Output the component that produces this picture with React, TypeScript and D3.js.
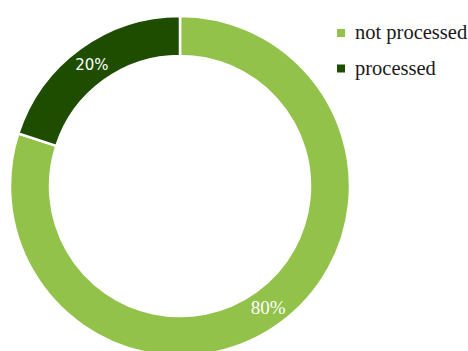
import React from "react";
import * as d3 from "d3";

const categories = ["not processed", "processed"];
const values = [80, 20];
const labels = ["80%", "20%"];
const colors = ["#92c24a", "#1e4d00"];

export default function App() {
  const width = 468, height = 351;
  const cx = 180, cy = 186, outerR = 170, innerR = 130;
  const pie = d3.pie<number>().sort(null).value((d) => d)
    .startAngle(0).endAngle(2 * Math.PI);
  const arcs = pie(values);
  const arc = d3.arc<d3.PieArcDatum<number>>().innerRadius(innerR).outerRadius(outerR);
  const labelArc = d3.arc<d3.PieArcDatum<number>>().innerRadius(150).outerRadius(150);
  const color = d3.scaleOrdinal<string, string>().domain(categories).range(colors);
  const legendY = d3.scalePoint<string>().domain(categories).range([39, 74.5]);
  return (
    <svg width={width} height={height} style={{ position: "absolute", left: 0, top: 0 }}>
      <g transform={`translate(${cx},${cy})`}>
        {arcs.map((a, i) => (
          <path key={i} d={arc(a) || ""} fill={color(categories[i])} stroke="#fff" strokeWidth={2.5} />
        ))}
        {arcs.map((a, i) => {
          const [x, y] = labelArc.centroid(a);
          return (
            <text key={"l" + i} x={x} y={y} dy="0.35em" textAnchor="middle" fill="#fff"
              style={{ fontFamily: i === 0 ? "'Liberation Serif', serif" : "'DejaVu Sans', sans-serif" }}
              fontSize={i === 0 ? 19 : 15}>
              {labels[i]}
            </text>
          );
        })}
      </g>
      {categories.map((c, i) => (
        <g key={c} transform={`translate(337,${legendY(c)})`}>
          <rect x={0} y={-10} width={8} height={8} fill={color(c)} />
          <text x={18} y={0} style={{ fontFamily: "'Liberation Serif', serif" }} fontSize={20.5} fill="#1a1a1a">{c}</text>
        </g>
      ))}
    </svg>
  );
}
